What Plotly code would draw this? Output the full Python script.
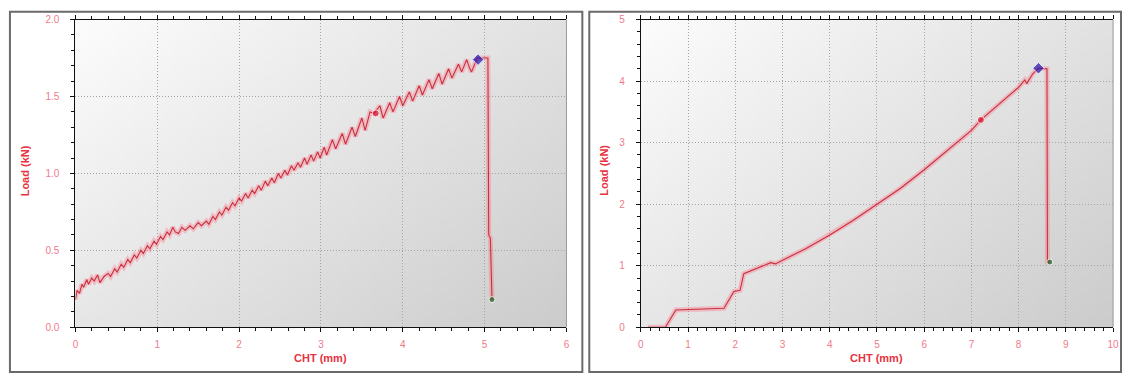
import base64, struct, zlib
import plotly.graph_objects as go

# ---------------- data ----------------
left_cht = [0.00, 0.02, 0.05, 0.08, 0.10, 0.14, 0.16, 0.20, 0.23, 0.27, 0.30, 0.35, 0.40, 0.43,
            0.48, 0.51, 0.56, 0.59, 0.64, 0.67, 0.72, 0.75, 0.80, 0.83, 0.88, 0.91, 0.96, 0.99,
            1.04, 1.07, 1.12, 1.15, 1.19, 1.22, 1.26, 1.30, 1.34, 1.40, 1.44, 1.50, 1.54, 1.60,
            1.63, 1.68, 1.71, 1.76, 1.79, 1.84, 1.87, 1.92, 1.95, 2.00, 2.03, 2.08, 2.11, 2.16,
            2.19, 2.24, 2.27, 2.32, 2.35, 2.40, 2.43, 2.48, 2.51, 2.56, 2.59, 2.64, 2.67, 2.72,
            2.75, 2.80, 2.83, 2.88, 2.91, 2.96, 2.99, 3.04, 3.07, 3.14, 3.18, 3.26, 3.30, 3.38,
            3.42, 3.50, 3.54, 3.60, 3.65, 3.72, 3.76, 3.84, 3.88, 3.96, 4.00, 4.08, 4.12, 4.20,
            4.24, 4.32, 4.36, 4.44, 4.48, 4.56, 4.60, 4.68, 4.72, 4.78, 4.82, 4.84, 4.91, 5.04,
            5.05, 5.07, 5.09]
left_load = [0.18, 0.24, 0.22, 0.28, 0.26, 0.31, 0.28, 0.32, 0.30, 0.34, 0.29, 0.33, 0.35, 0.33,
             0.38, 0.36, 0.41, 0.39, 0.44, 0.42, 0.47, 0.45, 0.50, 0.48, 0.53, 0.51, 0.56, 0.54,
             0.59, 0.57, 0.62, 0.60, 0.65, 0.62, 0.61, 0.65, 0.63, 0.66, 0.64, 0.68, 0.66, 0.69,
             0.67, 0.72, 0.70, 0.75, 0.73, 0.78, 0.76, 0.81, 0.79, 0.84, 0.82, 0.87, 0.84, 0.89,
             0.87, 0.92, 0.89, 0.95, 0.92, 0.97, 0.94, 1.00, 0.97, 1.02, 0.99, 1.05, 1.02, 1.07,
             1.04, 1.10, 1.06, 1.12, 1.08, 1.14, 1.10, 1.17, 1.12, 1.22, 1.16, 1.26, 1.19, 1.30,
             1.24, 1.36, 1.28, 1.40, 1.39, 1.44, 1.36, 1.46, 1.40, 1.50, 1.44, 1.53, 1.47, 1.57,
             1.51, 1.61, 1.55, 1.65, 1.58, 1.68, 1.62, 1.71, 1.66, 1.74, 1.68, 1.66, 1.75, 1.75,
             0.60, 0.58, 0.18]
left_marks_cht = [3.67, 4.92, 5.09]
left_marks_load = [1.39, 1.74, 0.18]

right_cht = [0.15, 0.52, 0.74, 1.20, 1.76, 1.97, 2.10, 2.18, 2.40, 2.60, 2.75, 2.85, 2.92, 3.00,
             3.50, 4.00, 4.50, 5.00, 5.50, 6.00, 6.50, 7.00, 7.20, 7.50, 8.00, 8.13, 8.17, 8.30,
             8.42, 8.60, 8.61, 8.66]
right_load = [0.00, 0.00, 0.28, 0.29, 0.31, 0.58, 0.60, 0.87, 0.94, 1.00, 1.05, 1.03, 1.06, 1.09,
              1.28, 1.50, 1.74, 2.00, 2.26, 2.56, 2.88, 3.20, 3.37, 3.57, 3.90, 4.02, 3.96, 4.12,
              4.21, 4.20, 1.06, 1.06]
right_marks_cht = [7.20, 8.42, 8.66]
right_marks_load = [3.37, 4.21, 1.06]

x_title = "CHT (mm)"
y_title = "Load (kN)"

# ---------------- layout geometry ----------------
W, H = 1129, 379
def fx(px): return px / W
def fy(py): return 1 - py / H

# background gradient image (style only)
def gradient_png(n=64):
    rows = b""
    for j in range(n):
        row = b"\x00"
        for i in range(n):
            t = (0.55 * i / (n - 1) + 0.45 * j / (n - 1))
            v = int(round(252 - 48 * t))
            row += bytes([v, v, v])
        rows += row
    def chunk(tag, data):
        return struct.pack(">I", len(data)) + tag + data + struct.pack(">I", zlib.crc32(tag + data) & 0xffffffff)
    png = b"\x89PNG\r\n\x1a\n" + chunk(b"IHDR", struct.pack(">IIBBBBB", n, n, 8, 2, 0, 0, 0)) \
        + chunk(b"IDAT", zlib.compress(rows, 9)) + chunk(b"IEND", b"")
    return "data:image/png;base64," + base64.b64encode(png).decode()

bg = gradient_png()

TICK_COL = "#f07a8c"
TITLE_COL = "#e8323f"
LINE_COL = "#c8303e"
GLOW_COL = "rgba(255,110,130,0.35)"

fig = go.Figure()

def add_curve(x, y, xa, ya, mx, my):
    fig.add_trace(go.Scatter(x=x, y=y, mode="lines", xaxis=xa, yaxis=ya,
                             line=dict(color=GLOW_COL, width=5), hoverinfo="skip", showlegend=False))
    fig.add_trace(go.Scatter(x=x, y=y, mode="lines", xaxis=xa, yaxis=ya,
                             line=dict(color=LINE_COL, width=1.1), showlegend=False))
    fig.add_trace(go.Scatter(x=mx, y=my, mode="markers", xaxis=xa, yaxis=ya, showlegend=False,
                             marker=dict(symbol=["circle", "diamond", "circle"],
                                         color=["#d8102c", "#2418b0", "#1f5a1f"],
                                         size=[7, 9, 6])))

add_curve(left_cht, left_load, "x", "y", left_marks_cht, left_marks_load)
add_curve(right_cht, right_load, "x2", "y2", right_marks_cht, right_marks_load)

GRID = dict(showgrid=True, gridcolor="#a4a4a4", griddash="1px,2px", gridwidth=1)
common_x = dict(GRID, showline=True, linecolor="#111", linewidth=1, mirror="ticks",
                ticks="outside", ticklen=4, tickcolor="#111", zeroline=False,
                ticklabelstandoff=4,
                tickfont=dict(family="Liberation Sans, Arial", size=10, color=TICK_COL),
                minor=dict(ticks="outside", ticklen=3, tickcolor="#111", showgrid=False))
common_y = dict(GRID, showline=True, linecolor="#111", linewidth=1,
                ticks="outside", ticklen=4, tickcolor="#111", zeroline=False,
                ticklabelstandoff=9,
                tickfont=dict(family="Liberation Sans, Arial", size=10, color=TICK_COL),
                minor=dict(ticks="outside", ticklen=3, tickcolor="#111", showgrid=False))

fig.update_layout(
    width=W, height=H, margin=dict(l=0, r=0, t=0, b=0),
    paper_bgcolor="white", plot_bgcolor="#e8e8e8",
    xaxis=dict(common_x, domain=[fx(73), fx(568)], range=[0, 6], dtick=1,
               minor=dict(common_x["minor"], dtick=0.2), anchor="y"),
    yaxis=dict(common_y, domain=[fy(331), fy(15)], range=[0, 2], dtick=0.5, tickformat=".1f",
               minor=dict(common_y["minor"], dtick=0.1), anchor="x"),
    xaxis2=dict(common_x, domain=[fx(643), fx(1119)], range=[0, 10], dtick=1,
                minor=dict(common_x["minor"], dtick=0.2), anchor="y2"),
    yaxis2=dict(common_y, domain=[fy(331), fy(15)], range=[0, 5], dtick=1,
                minor=dict(common_y["minor"], dtick=0.2), anchor="x2"),
)

fig.update_layout(images=[
    dict(source=bg, xref="x domain", yref="y domain", x=0, y=1, sizex=1, sizey=1,
         sizing="stretch", layer="below", xanchor="left", yanchor="top"),
    dict(source=bg, xref="x2 domain", yref="y2 domain", x=0, y=1, sizex=1, sizey=1,
         sizing="stretch", layer="below", xanchor="left", yanchor="top"),
])

shapes = []
# right-hand plot borders (grey)
for xa, ya in (("x", "y"), ("x2", "y2")):
    shapes.append(dict(type="line", xref=xa + " domain", yref=ya + " domain", x0=1, x1=1, y0=0, y1=1,
                       line=dict(color="#9a9a9a", width=1)))
# panel frames
for x0, x1 in ((7, 584), (591, 1127)):
    shapes.append(dict(type="rect", xref="paper", yref="paper", x0=fx(x0), x1=fx(x1),
                       y0=fy(377), y1=fy(7), line=dict(color="#6a6a6a", width=2), layer="above"))
fig.update_layout(shapes=shapes)

ann_font = dict(family="Liberation Sans, Arial", size=11, color=TITLE_COL)
anns = []
for cx, cy_x in ((320.5, 22), (881, 605)):
    anns.append(dict(text="<b>%s</b>" % x_title, xref="paper", yref="paper", x=fx(cx), y=fy(363),
                     xanchor="center", yanchor="middle", showarrow=False, font=ann_font))
    anns.append(dict(text="<b>%s</b>" % y_title, xref="paper", yref="paper", x=fx(cy_x), y=fy(170),
                     xanchor="center", yanchor="middle", showarrow=False, font=ann_font, textangle=-90))
fig.update_layout(annotations=anns)

fig.write_html("out.html", config={"displayModeBar": False},
               post_script="document.body.style.margin='0px';document.body.style.overflow='hidden';")
